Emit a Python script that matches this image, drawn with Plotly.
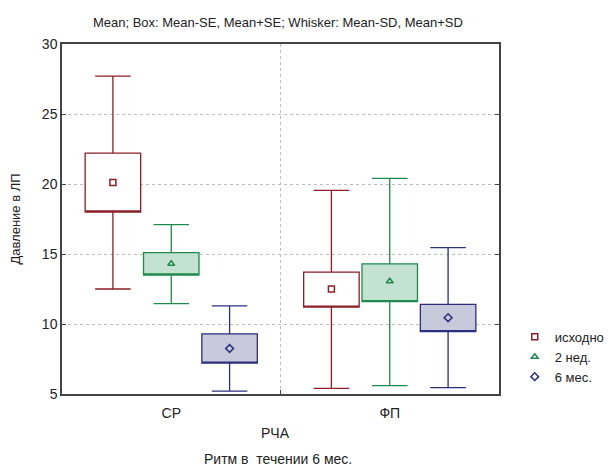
import plotly.graph_objects as go

categories = ["СР", "ФП"]
series = ["исходно", "2 нед.", "6 мес."]
# values per series: [СР, ФП]
mean_vals = {"исходно": [20.1, 12.5], "2 нед.": [14.3, 13.05], "6 мес.": [8.25, 10.45]}
box_low = {"исходно": [18.0, 11.2], "2 нед.": [13.5, 11.6], "6 мес.": [7.2, 9.45]}
box_high = {"исходно": [22.2, 13.7], "2 нед.": [15.1, 14.3], "6 мес.": [9.3, 11.4]}
wh_low = {"исходно": [12.5, 5.4], "2 нед.": [11.45, 5.6], "6 мес.": [5.2, 5.45]}
wh_high = {"исходно": [27.7, 19.55], "2 нед.": [17.1, 20.4], "6 мес.": [11.3, 15.45]}
y_ticks = [5, 10, 15, 20, 25, 30]

line_colors = {"исходно": "#8b1e26", "2 нед.": "#1f8a4c", "6 мес.": "#2c2f7d"}
fill_colors = {"исходно": "#ffffff", "2 нед.": "#c4e2d1", "6 мес.": "#c9c9dc"}
symbols = {"исходно": "square-open", "2 нед.": "triangle-up-open", "6 мес.": "diamond-open"}

spacing = 0.267
box_w = 0.254
fig = go.Figure()
for j, s in enumerate(series):
    off = (j - 1) * spacing
    xs = [i + off for i in range(len(categories))]
    fig.add_trace(go.Box(
        x=xs, q1=box_low[s], median=box_low[s], q3=box_high[s],
        lowerfence=wh_low[s], upperfence=wh_high[s],
        width=box_w, whiskerwidth=0.64,
        line=dict(color=line_colors[s], width=1.3),
        fillcolor=fill_colors[s], showlegend=False, name=s,
        boxpoints=False, hoverinfo="skip",
    ))
for j, s in enumerate(series):
    off = (j - 1) * spacing
    xs = [i + off for i in range(len(categories))]
    fig.add_trace(go.Scatter(
        x=xs, y=mean_vals[s], mode="markers", name=s,
        marker=dict(symbol=symbols[s], size=6, color=line_colors[s],
                    line=dict(width=1.5, color=line_colors[s])),
    ))

font = "Liberation Sans, Arial, sans-serif"
fig.add_annotation(text="РЧА", xref="paper", yref="paper",
                   x=0.489, y=-0.112, xanchor="center", yanchor="middle",
                   showarrow=False, font=dict(size=14, color="#222"))
fig.add_annotation(text="Ритм в  течении 6 мес.", xref="paper", yref="paper",
                   x=0.494, y=-0.186, xanchor="center", yanchor="middle",
                   showarrow=False, font=dict(size=14, color="#222"))
fig.update_layout(
    width=614, height=466,
    margin=dict(l=54, r=114, t=36, b=80),
    paper_bgcolor="white", plot_bgcolor="white",
    font=dict(family=font, size=13, color="#222"),
    title=dict(text="Mean; Box: Mean-SE, Mean+SE; Whisker: Mean-SD, Mean+SD",
               x=0.494, xref="paper", xanchor="center", y=0.97, yanchor="middle",
               font=dict(size=13, color="#222")),
    showlegend=True,
    legend=dict(x=1.036, xanchor="left", y=0.106, yanchor="middle",
                font=dict(size=13, color="#222"), bgcolor="rgba(0,0,0,0)",
                tracegroupgap=0),
    xaxis=dict(range=[-0.5, 1.5], tickvals=[0, 1], ticktext=categories,
               showgrid=False, ticks="", zeroline=False, automargin=False,
               showline=True, linecolor="#444", linewidth=1.5, mirror=True,
               tickfont=dict(size=14), ticklabelstandoff=5,
               minor=dict(tickvals=[0.5], showgrid=True, gridcolor="#bdbdbd",
                          griddash="dot", gridwidth=1, ticks="inside", ticklen=4,
                          tickcolor="#444")),
    yaxis=dict(range=[5, 30], tickvals=y_ticks, showgrid=True, gridcolor="#bdbdbd",
               griddash="dot", gridwidth=1, zeroline=False, automargin=False,
               ticks="inside", ticklen=4, tickcolor="#444",
               showline=True, linecolor="#444", linewidth=1.5, mirror="ticks",
               tickfont=dict(size=14),
               title=dict(text="Давление в ЛП", font=dict(size=13), standoff=20)),
)
fig.write_html("out.html")
